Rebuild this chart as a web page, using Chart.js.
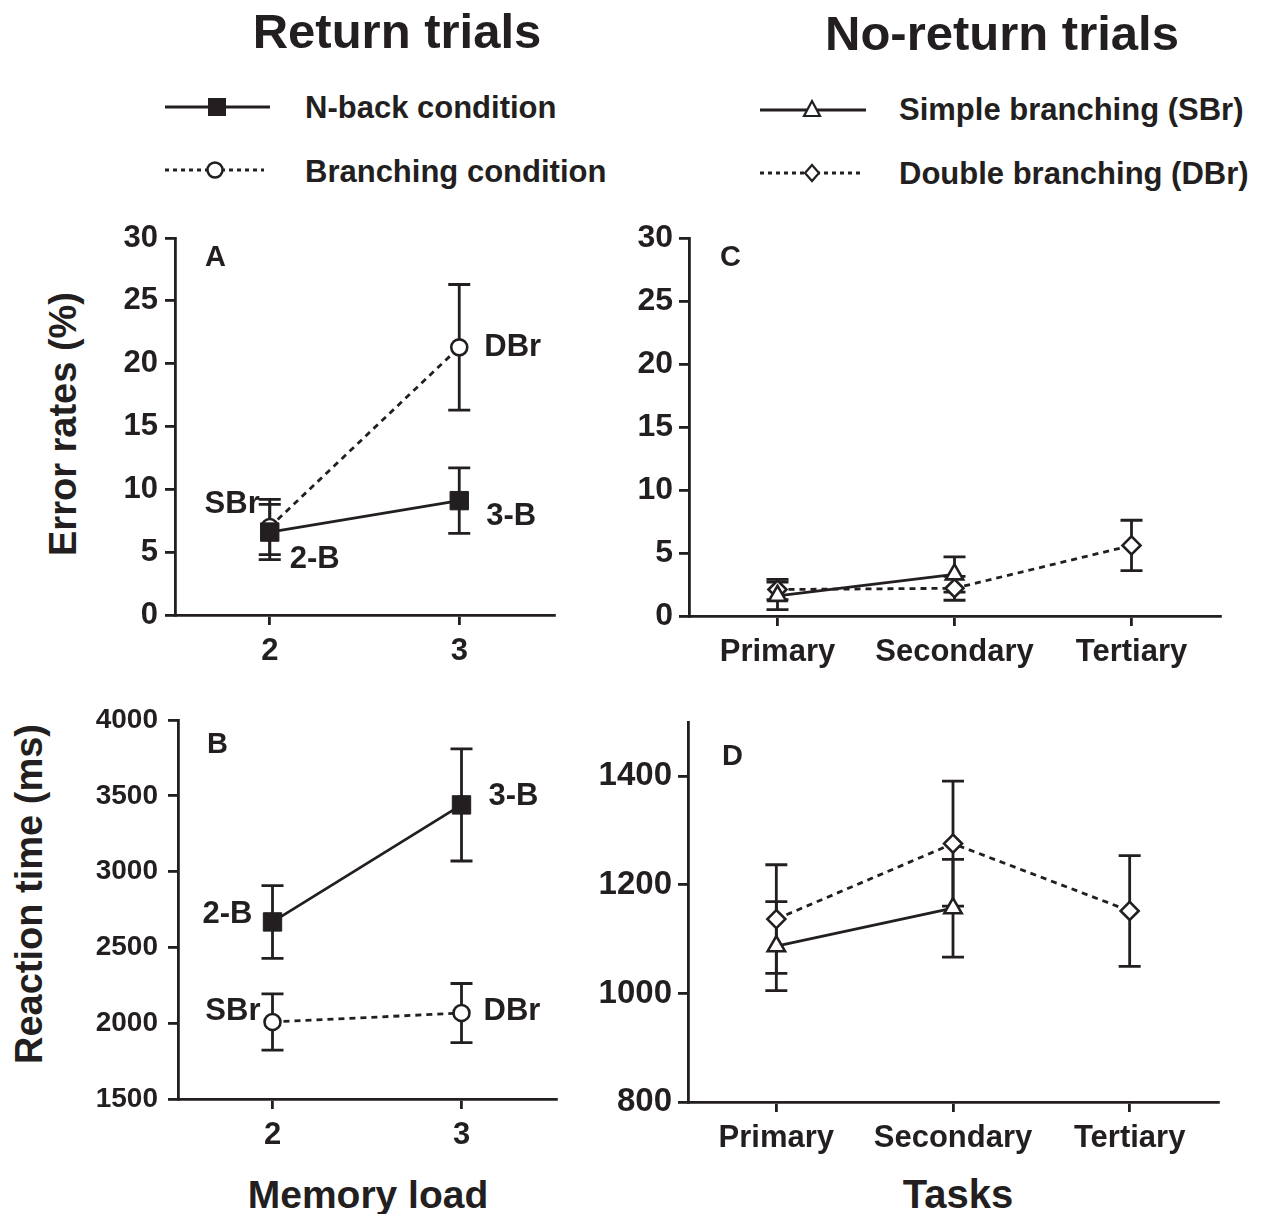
<!DOCTYPE html>
<html>
<head>
<meta charset="utf-8">
<script src="https://cdn.jsdelivr.net/npm/chart.js@4.4.1/dist/chart.umd.min.js"></script>
<style>
  body { margin: 0; background: #fff; width: 1264px; height: 1214px; position: relative; overflow: hidden;
         font-family: "Liberation Sans", Arial, sans-serif; font-weight: bold; color: #231f20; }
  .t { position: absolute; white-space: nowrap; line-height: 1; }
  .c { transform: translate(-50%, -50%); }
  .l { transform: translateY(-50%); }
  .v { transform: translate(-50%, -50%) rotate(-90deg); }
  canvas { position: absolute; }
</style>
</head>
<body>
<div class="t c" style="left:397px;top:31px;font-size:49px">Return trials</div>
<div class="t c" style="left:1002px;top:33px;font-size:49px">No-return trials</div>

<svg width="1264" height="200" style="position:absolute;left:0;top:0">
  <g stroke="#231f20" stroke-width="2.8" fill="none">
    <line x1="165" y1="107" x2="270" y2="107"/>
    <line x1="165" y1="170" x2="264" y2="170" stroke-dasharray="4 4"/>
    <line x1="760" y1="110" x2="866" y2="110"/>
    <line x1="760" y1="173" x2="864" y2="173" stroke-dasharray="4 4"/>
  </g>
  <rect x="208" y="98" width="18" height="18" fill="#231f20"/>
  <circle cx="215" cy="170" r="7.5" fill="#fff" stroke="#231f20" stroke-width="2.5"/>
  <path d="M812 101 L820 116 L804 116 Z" fill="#fff" stroke="#231f20" stroke-width="2.2"/>
  <path d="M812 165 L819 173 L812 181 L805 173 Z" fill="#fff" stroke="#231f20" stroke-width="2.2"/>
</svg>
<div class="t l" style="left:305px;top:107px;font-size:31px">N-back condition</div>
<div class="t l" style="left:305px;top:171px;font-size:31px">Branching condition</div>
<div class="t l" style="left:899px;top:109px;font-size:31px">Simple branching (SBr)</div>
<div class="t l" style="left:899px;top:173px;font-size:31px">Double branching (DBr)</div>

<div class="t v" style="left:63px;top:424px;font-size:38px">Error rates (%)</div>
<div class="t v" style="left:29px;top:894px;font-size:38px">Reaction time (ms)</div>
<div class="t c" style="left:368px;top:1194px;font-size:39px">Memory load</div>
<div class="t c" style="left:958px;top:1194px;font-size:40px">Tasks</div>

<canvas id="panelA" width="475" height="470" style="left:100px;top:215px"></canvas>
<canvas id="panelB" width="490" height="470" style="left:85px;top:700px"></canvas>
<canvas id="panelC" width="655" height="470" style="left:585px;top:215px"></canvas>
<canvas id="panelD" width="655" height="470" style="left:585px;top:700px"></canvas>

<script>
const INK = '#231f20';
const FONT = '"Liberation Sans", Arial, sans-serif';

// categories
const loadLabels = ['2', '3'];
const taskLabels = ['Primary', 'Secondary', 'Tertiary'];

// A: error rates (%), return trials
const errNback = [6.6, 9.1];
const errNbackSem = [2.2, 2.6];
const errBranch = [7.0, 21.3];
const errBranchSem = [2.2, 5.0];

// B: reaction time (ms), return trials
const rtNback = [2668, 3440];
const rtNbackSem = [240, 370];
const rtBranch = [2008, 2067];
const rtBranchSem = [185, 195];

// C: error rates (%), no-return trials
const errSBr = [1.6, 3.3, null];
const errSBrSem = [1.1, 1.4, null];
const errDBr = [2.1, 2.2, 5.6];
const errDBrSem = [0.8, 0.95, 2.0];

// D: reaction time (ms), no-return trials
const rtSBr = [1087, 1157, null];
const rtSBrSem = [82, 90, null];
const rtDBr = [1137, 1276, 1152];
const rtDBrSem = [100, 115, 102];

// tick labels
const ticksErr = [0, 5, 10, 15, 20, 25, 30];
const ticksRtLoad = [1500, 2000, 2500, 3000, 3500, 4000];
const ticksRtTask = [800, 1000, 1200, 1400];

// error bars under the markers
const errorBars = {
  id: 'errorBars',
  beforeDatasetsDraw(chart) {
    const ctx = chart.ctx;
    const y = chart.scales.y;
    ctx.save();
    ctx.strokeStyle = INK;
    ctx.lineWidth = 2.8;
    chart.data.datasets.forEach((ds, di) => {
      const meta = chart.getDatasetMeta(di);
      ds.sem.forEach((e, i) => {
        if (e == null || ds.data[i] == null) return;
        const x = meta.data[i].x;
        const top = y.getPixelForValue(ds.data[i] + e);
        const bot = y.getPixelForValue(ds.data[i] - e);
        ctx.beginPath();
        ctx.moveTo(x, top); ctx.lineTo(x, bot);
        ctx.moveTo(x - 11, top); ctx.lineTo(x + 11, top);
        ctx.moveTo(x - 11, bot); ctx.lineTo(x + 11, bot);
        ctx.stroke();
      });
    });
    ctx.restore();
  }
};

// panel letter and point labels
const panelText = {
  id: 'panelText',
  afterDatasetsDraw(chart, args, opts) {
    const ctx = chart.ctx;
    const a = chart.chartArea;
    ctx.save();
    ctx.fillStyle = INK;
    ctx.textBaseline = 'middle';
    ctx.textAlign = 'left';
    ctx.font = 'bold 29px ' + FONT;
    ctx.fillText(opts.letter, a.left + opts.lx, a.top + opts.ly);
    ctx.font = 'bold 31px ' + FONT;
    (opts.notes || []).forEach(n => {
      const p = chart.getDatasetMeta(n.ds).data[n.i];
      ctx.textAlign = n.align;
      ctx.fillText(n.text, p.x + n.dx, p.y + n.dy);
    });
    ctx.restore();
  }
};

function solidSet(data, sem, style, radius, filled) {
  return {
    data: data, sem: sem,
    borderColor: INK, borderWidth: 2.8,
    pointStyle: style, pointRadius: radius, pointHoverRadius: radius,
    pointBackgroundColor: filled ? INK : '#fff',
    pointBorderColor: INK, pointBorderWidth: filled ? 1 : 2.6,
    fill: false, tension: 0
  };
}

function dashedSet(data, sem, style, radius) {
  const ds = solidSet(data, sem, style, radius, false);
  ds.borderDash = [6, 5];
  return ds;
}

function makePanel(id, labels, datasets, yMin, yMax, yTicks, box, text) {
  const ctx = document.getElementById(id).getContext('2d');
  return new Chart(ctx, {
    type: 'line',
    data: { labels: labels, datasets: datasets },
    options: {
      responsive: false,
      animation: false,
      layout: { padding: { top: box.top, right: box.right, left: 0, bottom: 0 } },
      plugins: { legend: { display: false }, tooltip: { enabled: false }, panelText: text },
      scales: {
        x: {
          type: 'category',
          offset: true,
          afterFit: s => { s.height = box.xh; s.paddingLeft = 0; s.paddingRight = 0; },
          grid: { drawOnChartArea: false, tickLength: 10, color: INK, lineWidth: 2.8 },
          border: { color: INK, width: 2.8 },
          ticks: { color: INK, font: { family: FONT, weight: 'bold', size: box.xSize }, padding: 8, maxRotation: 0 }
        },
        y: {
          min: yMin, max: yMax,
          afterBuildTicks: s => { s.ticks = yTicks.map(v => ({ value: v })); },
          afterFit: s => { s.width = box.yw; s.paddingTop = 0; s.paddingBottom = 0; },
          grid: { drawOnChartArea: false, tickLength: 10, color: INK, lineWidth: 2.8 },
          border: { color: INK, width: 2.8 },
          ticks: { color: INK, font: { family: FONT, weight: 'bold', size: box.ySize }, padding: box.yPad,
                   callback: v => String(v) }
        }
      }
    },
    plugins: [errorBars, panelText]
  });
}

makePanel('panelA', loadLabels, [
  solidSet(errNback, errNbackSem, 'rect', 13, true),
  dashedSet(errBranch, errBranchSem, 'circle', 8)
], 0, 30, ticksErr, { top: 23, right: 21, xh: 70, yw: 75, xSize: 31, ySize: 31, yPad: 7 }, {
  letter: 'A', lx: 30, ly: 20,
  notes: [
    { text: 'DBr', ds: 1, i: 1, dx: 25, dy: 0, align: 'left' },
    { text: '3-B', ds: 0, i: 1, dx: 27, dy: 16, align: 'left' },
    { text: 'SBr', ds: 1, i: 0, dx: -10, dy: -23, align: 'right' },
    { text: '2-B', ds: 0, i: 0, dx: 20, dy: 27, align: 'left' }
  ]
});

makePanel('panelB', loadLabels, [
  solidSet(rtNback, rtNbackSem, 'rect', 13, true),
  dashedSet(rtBranch, rtBranchSem, 'circle', 8)
], 1500, 4000, ticksRtLoad, { top: 20, right: 19, xh: 71, yw: 93, xSize: 31, ySize: 28, yPad: 10 }, {
  letter: 'B', lx: 29, ly: 25,
  notes: [
    { text: '3-B', ds: 0, i: 1, dx: 27, dy: -8, align: 'left' },
    { text: '2-B', ds: 0, i: 0, dx: -20, dy: -7, align: 'right' },
    { text: 'SBr', ds: 1, i: 0, dx: -12, dy: -11, align: 'right' },
    { text: 'DBr', ds: 1, i: 1, dx: 22, dy: -2, align: 'left' }
  ]
});

makePanel('panelC', taskLabels, [
  solidSet(errSBr, errSBrSem, 'triangle', 10, false),
  dashedSet(errDBr, errDBrSem, 'rectRot', 9)
], 0, 30, ticksErr, { top: 23, right: 20, xh: 69, yw: 104, xSize: 31, ySize: 32, yPad: 6 }, {
  letter: 'C', lx: 31, ly: 20, notes: []
});

makePanel('panelD', taskLabels, [
  solidSet(rtSBr, rtSBrSem, 'triangle', 10, false),
  dashedSet(rtDBr, rtDBrSem, 'rectRot', 9)
], 800, 1500, ticksRtTask, { top: 22, right: 22, xh: 68, yw: 103, xSize: 31, ySize: 33, yPad: 6 }, {
  letter: 'D', lx: 34, ly: 35, notes: []
});
</script>
</body>
</html>
